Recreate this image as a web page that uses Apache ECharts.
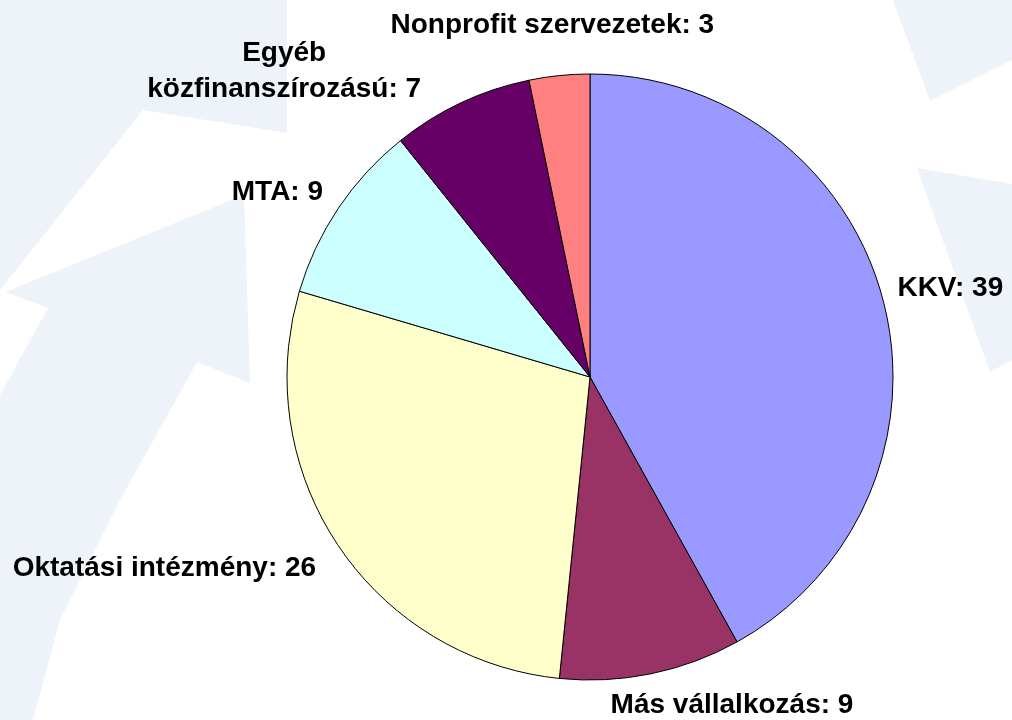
<!DOCTYPE html>
<html>
<head>
<meta charset="utf-8">
<script src="https://cdn.jsdelivr.net/npm/echarts@6/dist/echarts.min.js"></script>
<style>
  html, body { margin: 0; padding: 0; background: #ffffff; }
  #chart { width: 1012px; height: 720px; }
</style>
</head>
<body>
<div id="chart"></div>
<script>
// ---- data ----
var categories = ['KKV', 'Más vállalkozás', 'Oktatási intézmény', 'MTA', 'Egyéb közfinanszírozású', 'Nonprofit szervezetek'];
var values = [39, 9, 26, 9, 7, 3];
var colors = ['#9999FF', '#993366', '#FFFFCC', '#CCFFFF', '#660066', '#FF8080'];

// ---- label placement offsets (style) relative to the slice's mid-arc point ----
var labelOffsets = [[67, -13], [81, 31], [-174, 22], [-61, -16], [-177, -31], [-7, -50]];

var CX = 590, CY = 377, R = 303;
var total = values.reduce(function (a, b) { return a + b; }, 0);

function arcPoint(i) {
  var before = 0;
  for (var k = 0; k < i; k++) before += values[k];
  var mid = (before + values[i] / 2) / total * 2 * Math.PI;
  return [CX + R * Math.sin(mid), CY - R * Math.cos(mid)];
}

var chart = echarts.init(document.getElementById('chart'), null, { renderer: 'canvas' });
var bg = '#eef3f9';
var option = {
  backgroundColor: '#ffffff',
  animation: false,
  graphic: [
    { type: 'polygon', z: -10, silent: true, shape: { points: [[0,0],[287,0],[287,133],[143,110],[0,290]] }, style: { fill: bg } },
    { type: 'polygon', z: -10, silent: true, shape: { points: [[0,720],[33,720],[60,620],[120,500],[197,362],[250,383],[244,195],[5,292],[48,308],[0,395]] }, style: { fill: bg } },
    { type: 'polygon', z: -10, silent: true, shape: { points: [[893,0],[1012,0],[1012,60],[930,101]] }, style: { fill: bg } },
    { type: 'polygon', z: -10, silent: true, shape: { points: [[917,168],[1012,184],[1012,360],[990,372]] }, style: { fill: bg } }
  ],
  series: [{
    type: 'pie',
    center: [CX, CY],
    radius: R,
    startAngle: 90,
    clockwise: true,
    avoidLabelOverlap: false,
    silent: true,
    emphasis: { disabled: true },
    itemStyle: { borderColor: '#000000', borderWidth: 1 },
    label: {
      show: true,
      position: 'outside',
      color: '#000000',
      fontFamily: '"Liberation Sans", Arial, sans-serif',
      fontWeight: 'bold',
      fontSize: 28,
      lineHeight: 36,
      align: 'center',
      formatter: function (p) {
        var name = p.name;
        if (name === 'Egyéb közfinanszírozású') name = 'Egyéb\nközfinanszírozású';
        return name + ': ' + p.value;
      }
    },
    labelLine: { show: false },
    labelLayout: function (params) {
      var i = params.dataIndex;
      var pt = arcPoint(i);
      var off = labelOffsets[i];
      return { x: pt[0] + off[0], y: pt[1] + off[1], align: 'center', verticalAlign: 'middle' };
    },
    data: categories.map(function (c, i) {
      return { name: c, value: values[i], itemStyle: { color: colors[i] } };
    })
  }]
};
chart.setOption(option);
</script>
</body>
</html>
